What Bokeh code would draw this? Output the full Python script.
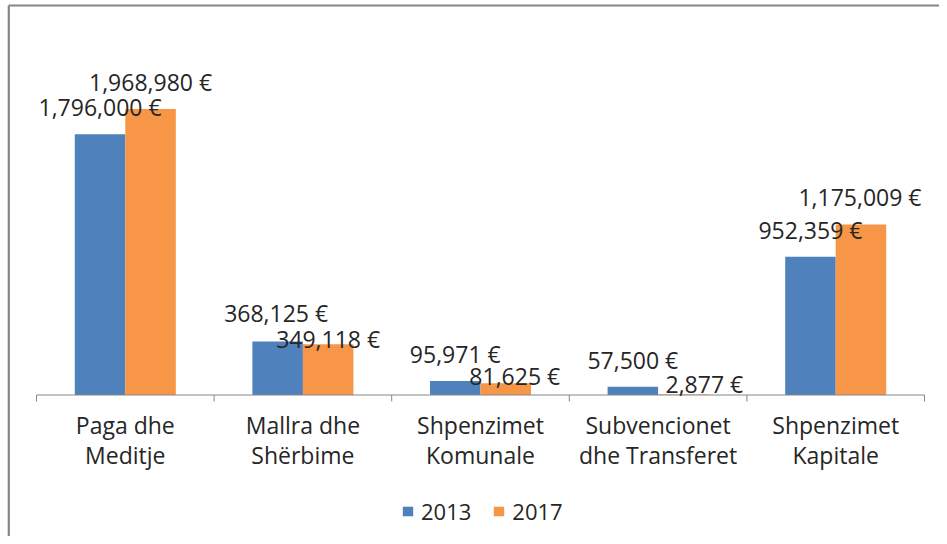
from bokeh.plotting import figure
from bokeh.models import Range1d, Legend, LegendItem, ColumnDataSource
from bokeh.core.properties import value
from bokeh.embed import file_html
from bokeh.resources import INLINE

# ---- data ----
categories = ["Paga dhe\nMeditje", "Mallra dhe\nShërbime", "Shpenzimet\nKomunale",
              "Subvencionet\ndhe Transferet", "Shpenzimet\nKapitale"]
series_names = ["2013", "2017"]
values_2013 = [1796000, 368125, 95971, 57500, 952359]
values_2017 = [1968980, 349118, 81625, 2877, 1175009]

# label nudges (screen px): baseline height above bar top, horizontal shift
lab_dy_2013 = [17.5, 19, 17.4, 17.4, 17.7]
lab_dx_2013 = [0, -1.5, 0, 0, 0]
lab_dy_2017 = [17.3, -4.4, -2.7, 0.7, 18.3]
lab_dx_2017 = [0, 0, 9, 21, -1]

# ---- layout constants ----
W, H = 939, 536
XPX = 177.6          # px per category
X0 = 36              # canvas x of first category boundary
K = 1.452e-4         # px per euro
BASE = 394.5         # canvas y of baseline
BAR_W = 50.5 / XPX
FONT = value("Open Sans")
FS = "23px"
TXT = "#262626"
GRAY = "#868686"
TSHIFT = 9.5         # text baseline correction (px)

p = figure(width=W, height=H, output_backend="svg", toolbar_location=None,
           x_range=Range1d(-X0 / XPX, (W - X0) / XPX),
           y_range=Range1d(-(H - BASE) / K, BASE / K),
           x_axis_location=None, y_axis_location=None,
           min_border=0, min_border_left=0, min_border_right=0,
           min_border_top=0, min_border_bottom=0)
p.grid.visible = False
p.outline_line_color = None
p.background_fill_color = "white"
p.border_fill_color = "white"

n = len(categories)
centers = [i + 0.5 for i in range(n)]
x13 = [c - BAR_W / 2 for c in centers]
x17 = [c + BAR_W / 2 for c in centers]

# chart border (left and top)
xl = (8.3 - X0) / XPX
yt = (BASE - 5.0) / K
p.segment(x0=[xl], y0=[-(H - BASE) / K], x1=[xl], y1=[yt], line_color=GRAY, line_width=2.2)
p.segment(x0=[xl], y0=[yt], x1=[(W - X0) / XPX], y1=[yt], line_color=GRAY, line_width=2.2)

r13 = p.vbar(x=x13, top=values_2013, bottom=0, width=BAR_W, fill_color="#4F81BD", line_color=None)
r17 = p.vbar(x=x17, top=values_2017, bottom=0, width=BAR_W, fill_color="#F79646", line_color=None)

# category axis line and ticks between categories
p.segment(x0=[0], y0=[0], x1=[n], y1=[0], line_color=GRAY, line_width=1)
p.segment(x0=list(range(n + 1)), y0=[0] * (n + 1), x1=list(range(n + 1)),
          y1=[-6.5 / K] * (n + 1), line_color=GRAY, line_width=1)

# category labels (two lines)
line1 = [c.split("\n")[0] for c in categories]
line2 = [c.split("\n")[1] for c in categories]
p.text(x=centers, y=[0] * n, text=line1, text_font=FONT, text_font_size=FS,
       text_color=TXT, text_align="center", text_baseline="alphabetic", y_offset=39.8 - TSHIFT)
p.text(x=centers, y=[0] * n, text=line2, text_font=FONT, text_font_size=FS,
       text_color=TXT, text_align="center", text_baseline="alphabetic", y_offset=69.8 - TSHIFT)

# data labels
def fmt(v):
    return f"{v:,} €"

src13 = ColumnDataSource(dict(x=x13, y=values_2013, t=[fmt(v) for v in values_2013],
                              dx=lab_dx_2013, dy=[-d - TSHIFT for d in lab_dy_2013]))
src17 = ColumnDataSource(dict(x=x17, y=values_2017, t=[fmt(v) for v in values_2017],
                              dx=lab_dx_2017, dy=[-d - TSHIFT for d in lab_dy_2017]))
for s in (src13, src17):
    p.text(x="x", y="y", text="t", x_offset="dx", y_offset="dy", source=s,
           text_font=FONT, text_font_size=FS, text_color=TXT,
           text_align="center", text_baseline="alphabetic")

legend = Legend(items=[LegendItem(label=series_names[0], renderers=[r13]),
                       LegendItem(label=series_names[1], renderers=[r17])],
                orientation="horizontal", location=(401, 10),
                glyph_width=13, glyph_height=12, label_standoff=7, spacing=21,
                padding=0, margin=0, border_line_color=None, background_fill_alpha=0,
                label_text_font="Open Sans", label_text_font_size="22px", label_text_color=TXT)
p.add_layout(legend)

open("out.html", "w").write(file_html(p, INLINE))
